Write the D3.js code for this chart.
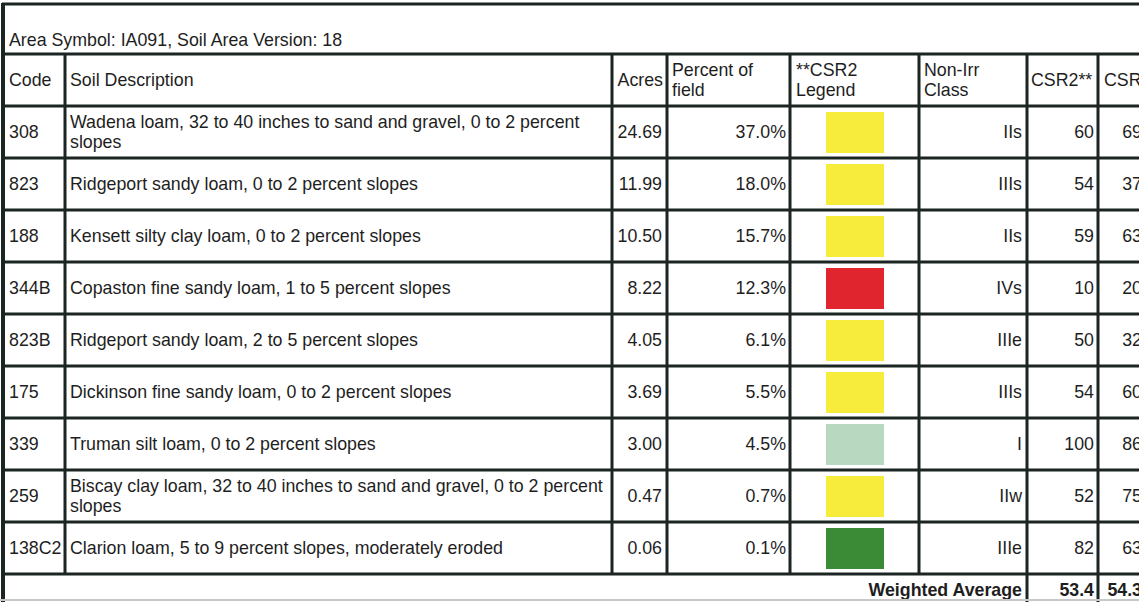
<!DOCTYPE html>
<html>
<head>
<meta charset="utf-8">
<script src="https://cdn.jsdelivr.net/npm/d3@7"></script>
<style>
  body { margin: 0; background: #fff; }
  svg { display: block; }
  text { font-family: "Liberation Sans", Arial, sans-serif; fill: #1e1e1e; }
</style>
</head>
<body>
<div id="the_table"></div>
<script>
let areaTitle = "Area Symbol: IA091, Soil Area Version: 18";
let headers = ["Code", "Soil Description", "Acres", "Percent of\nfield", "**CSR2\nLegend", "Non-Irr\nClass", "CSR2**", "CSR"];
let codes = ["308", "823", "188", "344B", "823B", "175", "339", "259", "138C2"];
let descriptions = [
    "Wadena loam, 32 to 40 inches to sand and gravel, 0 to 2 percent slopes",
    "Ridgeport sandy loam, 0 to 2 percent slopes",
    "Kensett silty clay loam, 0 to 2 percent slopes",
    "Copaston fine sandy loam, 1 to 5 percent slopes",
    "Ridgeport sandy loam, 2 to 5 percent slopes",
    "Dickinson fine sandy loam, 0 to 2 percent slopes",
    "Truman silt loam, 0 to 2 percent slopes",
    "Biscay clay loam, 32 to 40 inches to sand and gravel, 0 to 2 percent slopes",
    "Clarion loam, 5 to 9 percent slopes, moderately eroded"
];
let acres = [24.69, 11.99, 10.50, 8.22, 4.05, 3.69, 3.00, 0.47, 0.06];
let percents = [37.0, 18.0, 15.7, 12.3, 6.1, 5.5, 4.5, 0.7, 0.1];
let legendClass = ["mid", "mid", "mid", "low", "mid", "mid", "top", "mid", "high"];
let nonIrrClass = ["IIs", "IIIs", "IIs", "IVs", "IIIe", "IIIs", "I", "IIw", "IIIe"];
let csr2 = [60, 54, 59, 10, 50, 54, 100, 52, 82];
let csr = [69, 37, 63, 20, 32, 60, 86, 75, 63];
let avgLabel = "Weighted Average";
let avgCsr2 = 53.4;
let avgCsr = 54.3;

gen_vis();

function gen_vis() {
    var w = 1139;
    var h = 602;
    var ink = "#1b2523";
    var lw = 3;
    var top = 4, titleBottom = 54, headBottom = 106, rowsBottom = 574;
    // column edges
    var cols = [3, 65, 612, 667, 790, 919, 1027, 1098, 1146];

    var svg = d3.select("#the_table").append("svg")
        .attr("width", w)
        .attr("height", h);

    var yscale = d3.scaleBand()
        .domain(codes)
        .range([headBottom, rowsBottom]);

    var colorScale = d3.scaleOrdinal()
        .domain(["low", "mid", "high", "top"])
        .range(["#e1252f", "#f7ec3b", "#3b8a35", "#b8d8bf"]);

    var fs = 17.8;
    var lh = 20;

    // title
    svg.append("text")
        .attr("x", 9).attr("y", 46)
        .attr("font-size", fs)
        .text(areaTitle);

    // headers
    var headX = [9, 70, 663, 672, 796, 924, 1031, 1104];
    var headMid = (titleBottom + headBottom) / 2;
    headers.forEach(function (t, i) {
        var lines = t.split("\n");
        lines.forEach(function (l, j) {
            svg.append("text")
                .attr("x", headX[i])
                .attr("y", headMid + (j - (lines.length - 1) / 2) * lh)
                .attr("dy", "0.35em")
                .attr("font-size", fs)
                .attr("text-anchor", i == 2 ? "end" : "start")
                .text(l);
        });
    });

    // rows
    var rows = svg.selectAll("g.row")
        .data(codes)
        .enter().append("g")
        .attr("class", "row")
        .attr("transform", function (d) { return "translate(0," + (yscale(d) + yscale.bandwidth() / 2) + ")"; });

    rows.append("text")
        .attr("x", 9).attr("dy", "0.35em")
        .attr("font-size", fs)
        .text(function (d) { return d; });

    rows.each(function (d, i) {
        var g = d3.select(this);
        var t = g.append("text").attr("x", 70).attr("font-size", fs);
        var words = descriptions[i].split(" ");
        var lines = [], cur = [];
        words.forEach(function (wd) {
            cur.push(wd);
            t.text(cur.join(" "));
            if (t.node().getComputedTextLength() > 541 && cur.length > 1) {
                cur.pop();
                lines.push(cur.join(" "));
                cur = [wd];
            }
        });
        lines.push(cur.join(" "));
        t.text(null);
        lines.forEach(function (l, j) {
            t.append("tspan")
                .attr("x", 70)
                .attr("y", (j - (lines.length - 1) / 2) * lh)
                .attr("dy", "0.35em")
                .text(l);
        });
    });

    function rightText(x, fn) {
        rows.append("text")
            .attr("x", x).attr("dy", "0.35em")
            .attr("text-anchor", "end")
            .attr("font-size", fs)
            .text(fn);
    }
    rightText(662, function (d, i) { return acres[i].toFixed(2); });
    rightText(786, function (d, i) { return percents[i].toFixed(1) + "%"; });
    rightText(1022, function (d, i) { return nonIrrClass[i]; });
    rightText(1094, function (d, i) { return csr2[i]; });
    rightText(1142, function (d, i) { return csr[i]; });

    rows.append("rect")
        .attr("x", 826)
        .attr("y", -yscale.bandwidth() / 2 + 6)
        .attr("width", 58)
        .attr("height", yscale.bandwidth() - 11)
        .attr("fill", function (d, i) { return colorScale(legendClass[i]); });

    // weighted average
    var avgY = 590;
    var avgText = [[1022, avgLabel], [1094, avgCsr2.toFixed(1)], [1142, avgCsr.toFixed(1)]];
    avgText.forEach(function (a) {
        svg.append("text").attr("x", a[0]).attr("y", avgY).attr("dy", "0.35em")
            .attr("text-anchor", "end").attr("font-size", fs).attr("font-weight", "bold")
            .text(a[1]);
    });

    // grid lines
    var hl = [top, titleBottom, headBottom].concat(codes.map(function (d) { return yscale(d) + yscale.bandwidth(); }));
    svg.selectAll("line.h")
        .data(hl)
        .enter().append("line")
        .attr("x1", cols[0] - 1).attr("x2", w)
        .attr("y1", function (d) { return d; })
        .attr("y2", function (d) { return d; })
        .attr("stroke", ink).attr("stroke-width", lw);

    // vertical lines over the header + data rows
    svg.selectAll("line.v")
        .data(cols.slice(1))
        .enter().append("line")
        .attr("x1", function (d) { return d; })
        .attr("x2", function (d) { return d; })
        .attr("y1", titleBottom)
        .attr("y2", function (d, i) { return i >= 5 ? h : rowsBottom; })
        .attr("stroke", ink).attr("stroke-width", lw);

    // left border
    svg.append("line")
        .attr("x1", cols[0]).attr("x2", cols[0])
        .attr("y1", top - 1).attr("y2", h)
        .attr("stroke", ink).attr("stroke-width", 4);

    // faint bottom edge
    svg.append("line")
        .attr("x1", 0).attr("x2", w)
        .attr("y1", 600).attr("y2", 600)
        .attr("stroke", "#c8c8c8").attr("stroke-width", 2);
}
</script>
</body>
</html>
